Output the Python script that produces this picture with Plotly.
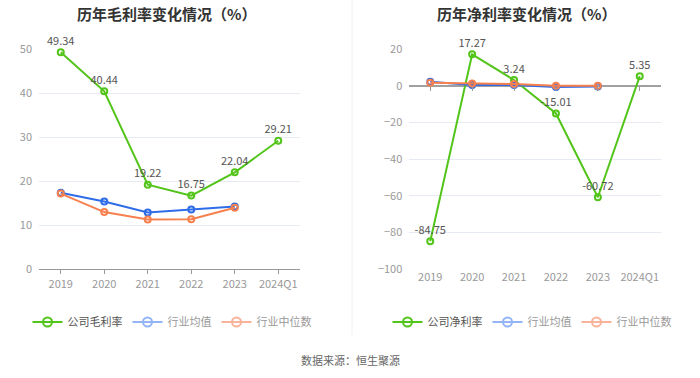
import plotly.graph_objects as go

categories = ["2019", "2020", "2021", "2022", "2023", "2024Q1"]

gross_company = [49.34, 40.44, 19.22, 16.75, 22.04, 29.21]
gross_ind_avg = [17.4, 15.4, 12.9, 13.6, 14.3, None]
gross_ind_med = [17.2, 13.0, 11.3, 11.4, 14.0, None]

net_company = [-84.75, 17.27, 3.24, -15.01, -60.72, 5.35]
net_ind_avg = [2.3, 0.5, 0.5, -0.5, -0.3, None]
net_ind_med = [1.7, 1.4, 1.1, 0.1, 0.1, None]

gross_left_ticks = [0, 10, 20, 30, 40, 50]
net_ticks = [20, 0, -20, -40, -60, -80, -100]

GREEN = "#52c41a"
BLUE = "#2f6de8"
ORANGE = "#f7804f"
PALE_BLUE = "#93b4f7"
PALE_ORANGE = "#f9b39a"
FONT = "Noto Sans CJK SC"

W, H = 700, 378

def px_x(p):
    return p / W

def px_y(p):
    return 1 - p / H

fig = go.Figure()

def add_series(xaxis, yaxis, comp, avg, med, comp_name, legend):
    fig.add_trace(go.Scatter(
        x=categories, y=comp, xaxis=xaxis, yaxis=yaxis, mode="lines+markers+text",
        line=dict(color=GREEN, width=2),
        marker=dict(symbol="circle-open", size=6, color=GREEN, line=dict(width=2)),
        text=[f"{v:.2f}" for v in comp], textposition="top center",
        textfont=dict(size=11, color="#555555", family=FONT),
        cliponaxis=False, showlegend=False, hoverinfo="skip"))
    fig.add_trace(go.Scatter(
        x=categories, y=avg, xaxis=xaxis, yaxis=yaxis, mode="lines+markers",
        line=dict(color=BLUE, width=2),
        marker=dict(symbol="circle-open", size=6, color=BLUE, line=dict(width=2)),
        cliponaxis=False, showlegend=False, hoverinfo="skip"))
    fig.add_trace(go.Scatter(
        x=categories, y=med, xaxis=xaxis, yaxis=yaxis, mode="lines+markers",
        line=dict(color=ORANGE, width=2),
        marker=dict(symbol="circle-open", size=6, color=ORANGE, line=dict(width=2)),
        cliponaxis=False, showlegend=False, hoverinfo="skip"))
    for name, col, tcol in [(comp_name, GREEN, "#555555"),
                            ("行业均值", PALE_BLUE, "#999999"),
                            ("行业中位数", PALE_ORANGE, "#999999")]:
        fig.add_trace(go.Scatter(
            x=[None], y=[None], xaxis=xaxis, yaxis=yaxis, mode="lines+markers",
            line=dict(color=col, width=2),
            marker=dict(symbol="circle-open", size=9, color=col, line=dict(width=2)),
            name=f'<span style="color:{tcol}">{name}</span>', legend=legend, showlegend=True))

add_series("x", "y", gross_company, gross_ind_avg, gross_ind_med, "公司毛利率", "legend")
add_series("x2", "y2", net_company, net_ind_avg, net_ind_med, "公司净利率", "legend2")

ydom = [px_y(269.3), px_y(49.3)]
axis_font = dict(size=11, color="#999999", family=FONT)
cat_range = [-0.5, len(categories) - 0.5]

net_range = [min(net_ticks), max(net_ticks)]
zero_frac = (0 - net_range[0]) / (net_range[1] - net_range[0])
zero_pos = ydom[0] + zero_frac * (ydom[1] - ydom[0])

fig.update_layout(
    width=W, height=H,
    margin=dict(l=0, r=0, t=0, b=0, pad=0, autoexpand=False),
    paper_bgcolor="white", plot_bgcolor="white",
    font=dict(family=FONT),
    xaxis=dict(domain=[px_x(39), px_x(300)], type="category", anchor="y", range=cat_range,
               showline=True, linecolor="#999999", linewidth=1.2,
               ticks="outside", ticklen=4, tickcolor="#999999", automargin=False,
               tickfont=axis_font, showgrid=False, fixedrange=True),
    yaxis=dict(domain=ydom, range=[0, 50], anchor="x", tickvals=gross_left_ticks,
               showgrid=True, gridcolor="#e6eaf2", gridwidth=1, zeroline=False, automargin=False,
               showline=False, tickfont=axis_font, ticks="", ticklabelstandoff=6),
    xaxis2=dict(domain=[px_x(409.3), px_x(660.7)], type="category", anchor="y2", range=cat_range,
                showline=False, ticks="", tickfont=axis_font, showgrid=False, automargin=False),
    yaxis2=dict(domain=ydom, range=net_range, anchor="x2", tickvals=net_ticks,
                showgrid=True, gridcolor="#e6eaf2", gridwidth=1, automargin=False,
                zeroline=True, zerolinecolor="#a0a0a0", zerolinewidth=1.5,
                showline=False, tickfont=axis_font, ticks="", ticklabelstandoff=6),
    xaxis3=dict(overlaying="x2", anchor="free", position=zero_pos, side="bottom",
                range=cat_range, automargin=False,
                tickvals=list(range(len(categories))), showticklabels=False,
                ticks="outside", ticklen=4, tickcolor="#999999",
                showgrid=False, zeroline=False, showline=False),
    legend=dict(orientation="h", x=px_x(172), xanchor="center", y=px_y(322), yanchor="middle",
                font=dict(size=11, family=FONT), itemwidth=30, tracegroupgap=0,
                bgcolor="rgba(0,0,0,0)"),
    legend2=dict(orientation="h", x=px_x(532), xanchor="center", y=px_y(322), yanchor="middle",
                 font=dict(size=11, family=FONT), itemwidth=30, tracegroupgap=0,
                 bgcolor="rgba(0,0,0,0)"),
    showlegend=True,
)

fig.add_trace(go.Scatter(x=[None], y=[None], xaxis="x3", yaxis="y2", showlegend=False,
                         hoverinfo="skip"))

fig.add_annotation(text="<b>历年毛利率变化情况（%）</b>", x=px_x(166), y=px_y(13),
                   xref="paper", yref="paper", showarrow=False, xanchor="center", yanchor="middle",
                   font=dict(size=15, color="#333333", family=FONT))
fig.add_annotation(text="<b>历年净利率变化情况（%）</b>", x=px_x(526), y=px_y(13),
                   xref="paper", yref="paper", showarrow=False, xanchor="center", yanchor="middle",
                   font=dict(size=15, color="#333333", family=FONT))
fig.add_annotation(text="数据来源：恒生聚源", x=px_x(350), y=px_y(360),
                   xref="paper", yref="paper", showarrow=False, xanchor="center", yanchor="middle",
                   font=dict(size=11, color="#666666", family=FONT))

fig.add_shape(type="line", xref="paper", yref="paper", x0=px_x(352), x1=px_x(352),
              y0=px_y(335), y1=px_y(0), line=dict(color="#f0f0f0", width=1))

fig.write_html("out.html", config={"displayModeBar": False},
               post_script="document.body.style.margin='0';")
